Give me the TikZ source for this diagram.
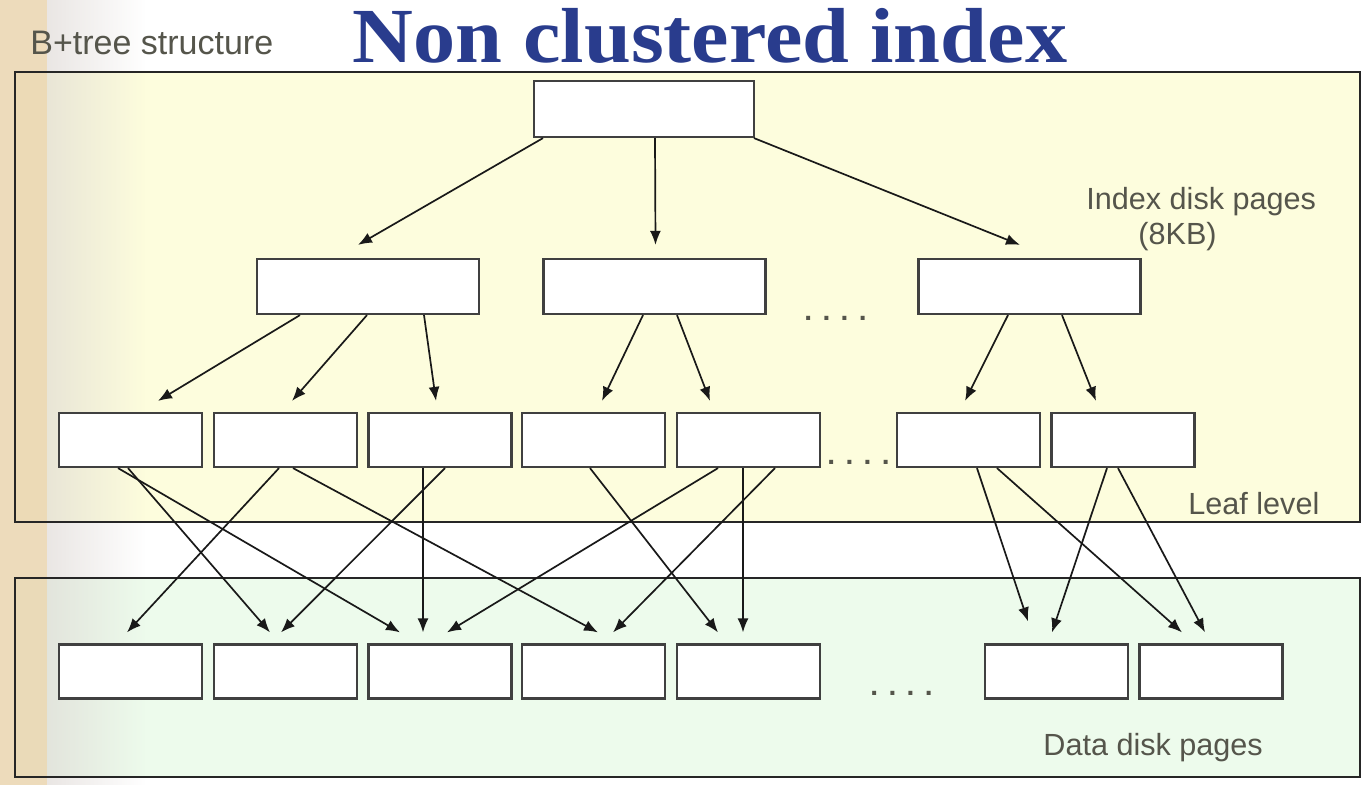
\documentclass[tikz,border=0pt]{standalone}
\usepackage{fontspec}
\newfontfamily\labelfont{Liberation Sans}
\newfontfamily\titlefont[FakeStretch=1.08]{Liberation Serif}
\usetikzlibrary{arrows.meta,fadings}

\definecolor{titleblue}{HTML}{293C8D}
\definecolor{labelgray}{HTML}{55554B}
\definecolor{indexbg}{HTML}{FDFDDD}
\definecolor{databg}{HTML}{EDFBEC}
\definecolor{sand}{HTML}{EAD5B0}
\definecolor{haze}{HTML}{DCD6D2}

\begin{document}
\begin{tikzpicture}[%
    x=0.5pt, y=-0.5pt,
    page/.style={draw=black!75, fill=white, line width=1.1pt, inner sep=0pt},
    rootpage/.style={page, minimum width=110pt, minimum height=28pt},
    midpage/.style={page, minimum width=111pt, minimum height=27.5pt},
    leaf/.style={page, minimum width=71.5pt, minimum height=27pt},
    panel/.style={draw=black!85, line width=1pt},
    lbl/.style={font=\labelfont\fontsize{15.3}{18}\selectfont, text=labelgray, inner sep=0pt, anchor=base west},
    dots/.style={font=\labelfont\bfseries\fontsize{14}{16}\selectfont, text=labelgray, inner sep=0pt, anchor=base west},
    ptr/.style={-{Latex[length=7pt,width=5.5pt]}, line width=0.85pt, black!90}]

    \useasboundingbox (0,0) rectangle (1372,785);
    \fill[white] (0,0) rectangle (1372,785);

    % panels and the sandy strip on the left
    \fill[indexbg] (15,72) rectangle (1360,522);
    \fill[databg] (15,578) rectangle (1360,777);
    \fill[sand, opacity=0.85] (0,0) rectangle (47,785);
    \fill[haze, opacity=0.6, path fading=east] (47,0) rectangle (145,785);
    \draw[panel] (15,72) rectangle (1360,522);
    \draw[panel] (15,578) rectangle (1360,777);

    \node[anchor=base, font=\titlefont\bfseries\fontsize{39}{44}\selectfont, text=titleblue, inner sep=0pt] (title) at (710,63) {Non clustered index};
    \node[lbl, font=\labelfont\fontsize{17}{20}\selectfont] (btree) at (30,55) {B+tree structure};

    \node[rootpage] (root) at (644,109) {};

    \node[midpage] (mid1) at (368,286.5) {};
    \node[midpage] (mid2) at (654.5,286.5) {};
    \node[midpage] (mid3) at (1029.5,286.5) {};

    \foreach \i/\x in {1/130.5,2/285.5,3/440,4/593.5,5/748.5,6/968.5,7/1123}
        \node[leaf] (l\i) at (\x,440) {};

    \foreach \i/\x in {1/130.5,2/285.5,3/440,4/593.5,5/748.5,6/1056.5,7/1211}
        \node[leaf] (d\i) at (\x,671.5) {};

    \node[dots] (dotsmid) at (804,321) {. . . .};
    \node[dots] (dotsleaf) at (827,465) {. . . .};
    \node[dots] (dotsdata) at (870,696) {. . . .};

    \node[lbl] (idxlbl) at (1086,210) {Index disk pages};
    \node[lbl] (kblbl) at (1138,245) {(8KB)};
    \node[lbl] (leaflbl) at (1188,515) {Leaf level};
    \node[lbl] (datalbl) at (1043,756) {Data disk pages};

    % root to inner pages
    \draw[ptr] ([xshift=-50.5pt]root.south) -- ([xshift=-5pt,yshift=6.5pt]mid1.north);
    \draw[ptr] ([xshift=5.5pt]root.south) -- ([xshift=0.5pt,yshift=6.5pt]mid2.north);
    \draw[ptr] ([xshift=55pt]root.south) -- ([xshift=-4.75pt,yshift=6.5pt]mid3.north);

    % inner pages to leaves
    \draw[ptr] ([xshift=-34pt]mid1.south) -- ([xshift=13.75pt,yshift=5.5pt]l1.north);
    \draw[ptr] ([xshift=-0.5pt]mid1.south) -- ([xshift=3.25pt,yshift=5.5pt]l2.north);
    \draw[ptr] ([xshift=28pt]mid1.south) -- ([xshift=-2pt,yshift=5.5pt]l3.north);
    \draw[ptr] ([xshift=-5.75pt]mid2.south) -- ([xshift=4.25pt,yshift=5.5pt]l4.north);
    \draw[ptr] ([xshift=11.25pt]mid2.south) -- ([xshift=-19.25pt,yshift=5.5pt]l5.north);
    \draw[ptr] ([xshift=-10.75pt]mid3.south) -- ([xshift=-1.75pt,yshift=5.5pt]l6.north);
    \draw[ptr] ([xshift=16.25pt]mid3.south) -- ([xshift=-13.5pt,yshift=5.5pt]l7.north);

    % leaves to data pages
    \draw[ptr] ([xshift=-1.25pt]l1.south) -- ([xshift=-7.75pt,yshift=5.5pt]d2.north);
    \draw[ptr] ([xshift=-6.25pt]l1.south) -- ([xshift=-20pt,yshift=5.5pt]d3.north);
    \draw[ptr] ([xshift=-3.25pt]l2.south) -- ([xshift=-1.75pt,yshift=5.5pt]d1.north);
    \draw[ptr] ([xshift=3.75pt]l2.south) -- ([xshift=2.25pt,yshift=5.5pt]d4.north);
    \draw[ptr] ([xshift=-8.5pt]l3.south) -- ([xshift=-8.5pt,yshift=5.5pt]d3.north);
    \draw[ptr] ([xshift=2.5pt]l3.south) -- ([xshift=-2.25pt,yshift=5.5pt]d2.north);
    \draw[ptr] ([xshift=-1.75pt]l4.south) -- ([xshift=-15.25pt,yshift=5.5pt]d5.north);
    \draw[ptr] ([xshift=-15.25pt]l5.south) -- ([xshift=3.5pt,yshift=5.5pt]d3.north);
    \draw[ptr] ([xshift=-2.75pt]l5.south) -- ([xshift=-2.75pt,yshift=5.5pt]d5.north);
    \draw[ptr] ([xshift=13.25pt]l5.south) -- ([xshift=9.75pt,yshift=5.5pt]d4.north);
    \draw[ptr] ([xshift=4.25pt]l6.south) -- ([xshift=-14.25pt,yshift=11pt]d6.north);
    \draw[ptr] ([xshift=14.25pt]l6.south) -- ([xshift=-14.5pt,yshift=5.5pt]d7.north);
    \draw[ptr] ([xshift=-8pt]l7.south) -- ([xshift=-2.25pt,yshift=5.5pt]d6.north);
    \draw[ptr] ([xshift=-2.5pt]l7.south) -- ([xshift=-3pt,yshift=5.5pt]d7.north);

\end{tikzpicture}
\end{document}
